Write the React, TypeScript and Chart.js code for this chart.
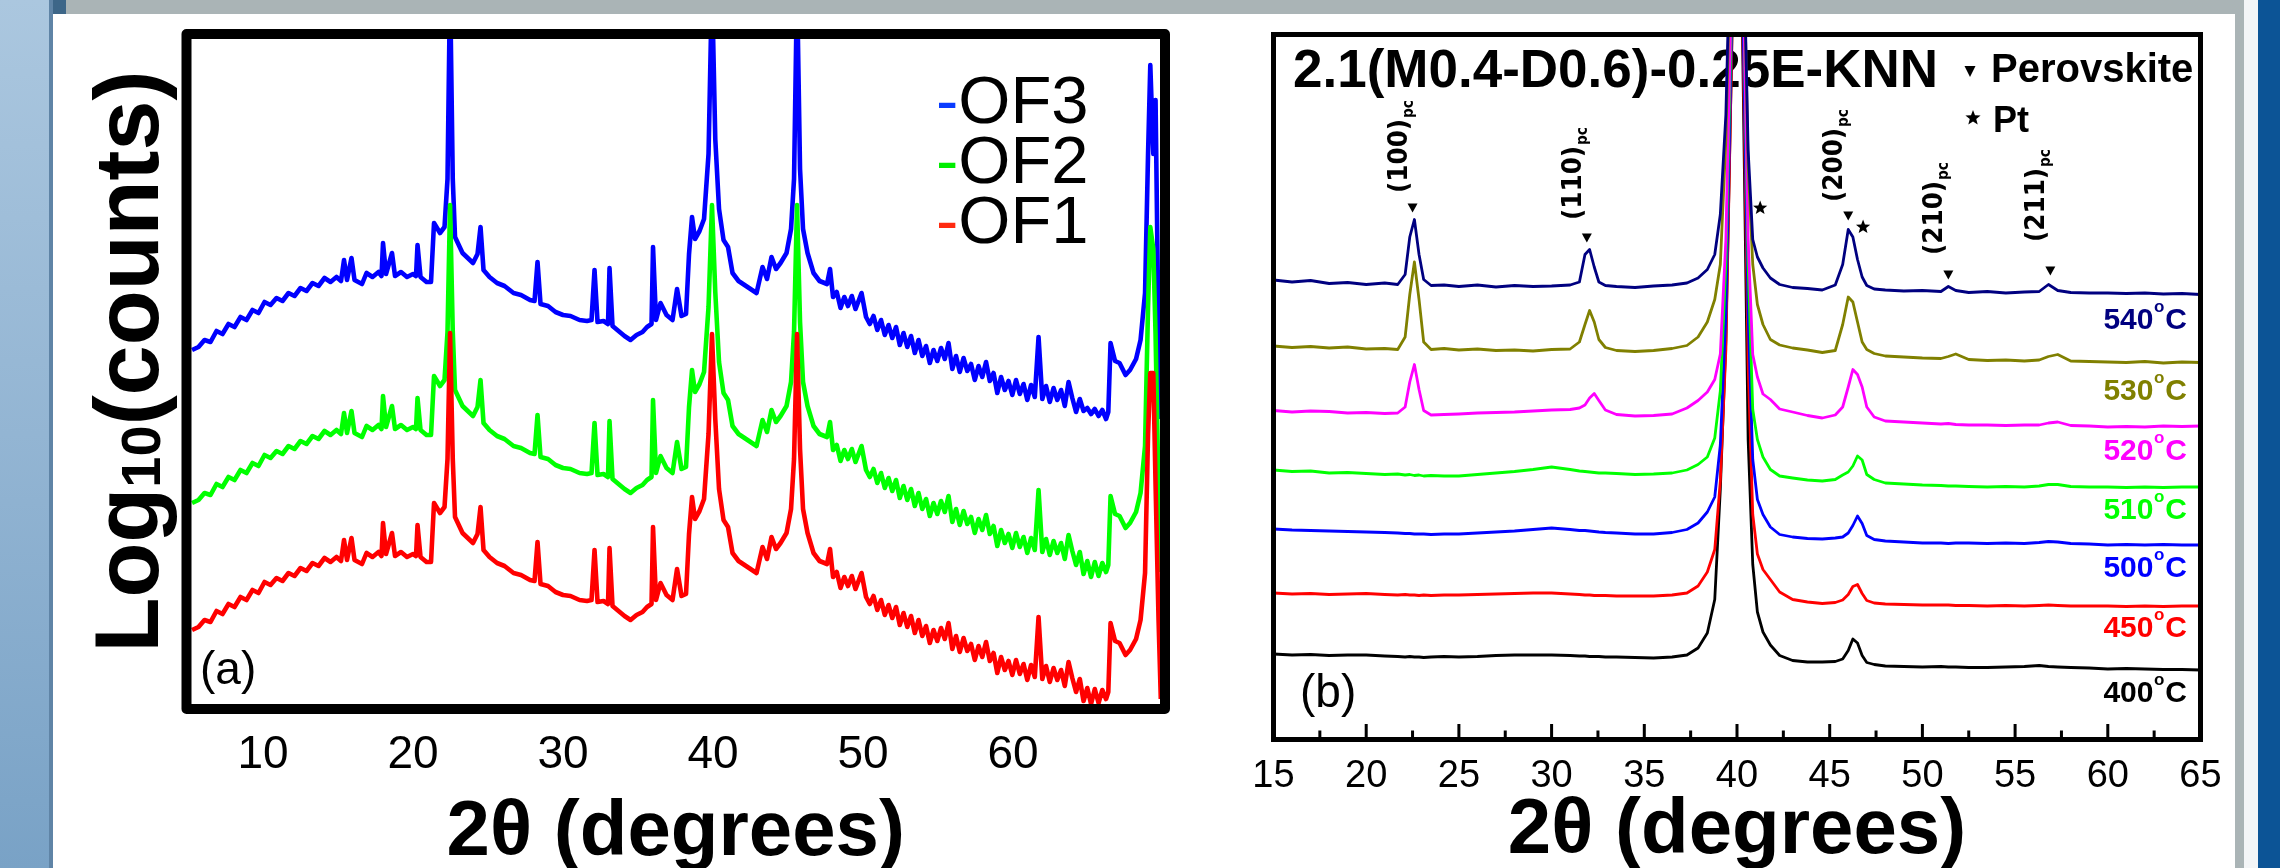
import React, { useEffect, useRef } from "react";
import { Chart, registerables } from "chart.js";

Chart.register(...registerables);

// ---------------- Panel (a) data ----------------
const twoThetaA = [5.27, 5.7, 6.1, 6.5, 6.9, 7.3, 7.7, 8.1, 8.5, 8.9,
  9.3, 9.7, 10.1, 10.5, 10.9, 11.3, 11.7, 12.1, 12.5, 12.9,
  13.3, 13.7, 14.1, 14.5, 14.9, 15.2, 15.4, 15.6, 15.9, 16.1,
  16.6, 16.9, 17.3, 17.7, 17.9, 18.0, 18.2, 18.6, 18.8, 19.2,
  19.6, 20.0, 20.2, 20.3, 20.5, 20.9, 21.2, 21.4, 21.8, 22.1,
  22.3, 22.47, 22.65, 22.8, 23.3, 24.0, 24.3, 24.5, 24.7, 25.1,
  25.6, 26.1, 26.7, 27.2, 27.8, 28.1, 28.3, 28.5, 29.0, 29.5,
  30.0, 30.5, 31.1, 31.6, 31.9, 32.1, 32.3, 32.7, 33.0, 33.1,
  33.3, 33.7, 34.1, 34.5, 34.9, 35.3, 35.6, 35.9, 36.0, 36.2,
  36.5, 36.9, 37.3, 37.6, 37.9, 38.2, 38.4, 38.6, 38.8, 39.1,
  39.4, 39.7, 39.93, 40.15, 40.4, 40.7, 41.0, 41.3, 41.7, 42.3,
  42.9, 43.3, 43.6, 43.9, 44.2, 44.5, 44.9, 45.2, 45.4, 45.6,
  45.8, 46.0, 46.3, 46.7, 47.1,
  47.6, 47.8, 48.0, 48.25, 48.5, 48.75, 49.0, 49.25, 49.5, 49.75,
  49.9, 50.2, 50.45, 50.7, 50.95, 51.2, 51.45, 51.7, 51.95, 52.2,
  52.45, 52.7, 52.95, 53.2, 53.45, 53.7, 53.95, 54.2, 54.45, 54.7,
  54.95, 55.2, 55.45, 55.7, 55.95, 56.2, 56.45, 56.7, 56.95, 57.2,
  57.45, 57.7, 57.95, 58.2, 58.45, 58.7, 58.95, 59.2, 59.45, 59.7,
  59.95, 60.2, 60.45, 60.7, 60.95, 61.2, 61.45, 61.7, 61.95, 62.2,
  62.45, 62.7, 62.95, 63.2, 63.45, 63.7, 63.95, 64.2, 64.45, 64.7,
  64.95, 65.2, 65.45, 65.7, 65.95, 66.2, 66.35,
  66.5, 66.8, 67.1, 67.5, 67.8, 68.2, 68.5, 68.8, 69.0, 69.15,
  69.35, 69.5, 69.7, 69.85];

const of1Counts = [15.8, 16.4, 17.8, 17.4, 19.6, 19.0, 21.0, 20.4, 22.4, 21.8,
  23.8, 23.2, 25.4, 24.8, 26.2, 25.6, 27.2, 26.6, 28.2, 27.6,
  29.2, 28.6, 30.2, 29.4, 30.4, 29.6, 33.8, 29.8, 34.2, 29.8,
  29.0, 31.2, 30.4, 31.4, 30.6, 37.2, 31.0, 35.2, 30.6, 31.4,
  30.4, 31.0, 30.6, 36.8, 30.4, 29.4, 29.4, 41.2, 39.2, 40.4,
  50.0, 75.2, 50.0, 38.4, 35.2, 33.2, 35.0, 40.4, 31.8, 30.4,
  29.2, 28.6, 27.2, 26.8, 25.8, 25.6, 33.4, 25.0, 24.6, 23.4,
  22.8, 22.6, 21.8, 21.6, 21.8, 31.8, 21.4, 21.6, 21.0, 32.2,
  20.6, 19.6, 18.6, 17.8, 18.8, 19.4, 20.4, 21.0, 36.4, 21.8,
  25.2, 22.8, 21.8, 28.0, 22.6, 23.0, 35.0, 42.4, 38.0, 39.6,
  42.0, 55.0, 75.0, 58.0, 44.0, 37.8, 36.4, 31.2, 29.6, 28.4,
  27.2, 32.4, 30.0, 34.4, 32.0, 33.2, 35.2, 40.0, 50.0, 75.0,
  52.0, 40.0, 35.2, 31.2, 29.6,
  29.0, 32.0, 26.4, 27.4, 24.2, 26.4, 24.6, 26.6, 24.0, 26.0,
  27.2, 22.4, 21.0, 22.6, 19.8, 21.8, 18.8, 20.8, 18.2, 20.4,
  16.8, 19.2, 16.4, 18.6, 15.2, 17.8, 14.6, 16.6, 13.2, 15.8,
  13.6, 16.2, 14.0, 17.2, 12.0, 14.6, 11.4, 14.2, 11.6, 13.0,
  9.8, 12.6, 10.4, 13.4, 9.6, 11.2, 7.2, 10.4, 7.8, 9.6,
  6.8, 9.8, 7.0, 9.0, 5.8, 8.8, 6.4, 18.4, 6.0, 8.6,
  5.4, 8.2, 5.8, 7.8, 4.6, 9.4, 6.2, 3.4, 6.0, 1.6,
  4.2, 1.0, 4.0, 1.2, 3.8, 2.0, 3.4,
  17.2, 13.6, 13.2, 10.8, 11.8, 14.0, 17.8, 27.2, 55.0, 67.2,
  67.2, 45.0, 17.8, 2.0];

const of2Counts = [41.2, 41.8, 43.2, 42.8, 45.0, 44.4, 46.4, 45.8, 47.8, 47.2,
  49.2, 48.6, 50.8, 50.2, 51.6, 51.0, 52.6, 52.0, 53.6, 53.0,
  54.6, 54.0, 55.6, 54.8, 55.8, 55.0, 59.2, 55.2, 59.6, 55.2,
  54.4, 56.6, 55.8, 56.8, 56.0, 62.6, 56.4, 60.6, 56.0, 56.8,
  55.8, 56.4, 56.0, 62.2, 55.8, 54.8, 54.8, 66.6, 64.6, 65.8,
  75.4, 100.8, 75.4, 63.8, 60.6, 58.6, 60.4, 65.8, 57.2, 55.8,
  54.6, 54.0, 52.6, 52.2, 51.2, 51.0, 58.8, 50.4, 50.0, 48.8,
  48.2, 48.0, 47.2, 47.0, 47.2, 57.2, 46.8, 47.0, 46.4, 57.6,
  46.0, 45.0, 44.0, 43.2, 44.2, 44.8, 45.8, 46.4, 61.8, 47.2,
  50.6, 48.2, 47.2, 53.4, 48.0, 48.4, 60.4, 67.8, 63.4, 65.0,
  67.4, 80.4, 100.8, 83.4, 69.4, 63.2, 61.8, 56.6, 55.0, 53.8,
  52.6, 57.8, 55.4, 59.8, 57.4, 58.6, 60.6, 65.4, 75.4, 100.8,
  77.4, 65.4, 60.6, 56.6, 55.0,
  54.4, 57.4, 51.8, 52.8, 49.6, 51.8, 50.0, 52.0, 49.4, 51.4,
  52.6, 47.8, 46.4, 48.0, 45.2, 47.2, 44.2, 46.2, 43.6, 45.8,
  42.2, 44.6, 41.8, 44.0, 40.6, 43.2, 40.0, 42.0, 38.6, 41.2,
  39.0, 41.6, 39.4, 42.6, 37.4, 40.0, 36.8, 39.6, 37.0, 38.4,
  35.2, 38.0, 35.8, 38.8, 35.0, 36.6, 32.6, 35.8, 33.2, 35.0,
  32.2, 35.2, 32.4, 34.4, 31.2, 34.2, 31.8, 43.8, 31.4, 34.0,
  30.8, 33.6, 31.2, 33.2, 30.0, 34.8, 31.6, 28.8, 31.4, 27.0,
  29.6, 26.4, 29.4, 26.6, 29.2, 27.4, 28.8,
  42.6, 39.0, 38.6, 36.2, 37.2, 39.4, 43.2, 52.6, 80.4, 96.4,
  92.0, 75.0, 43.2, 27.4];

const of3Counts = [71.8, 72.4, 73.8, 73.4, 75.6, 75.0, 77.0, 76.4, 78.4, 77.8,
  79.8, 79.2, 81.4, 80.8, 82.2, 81.6, 83.2, 82.6, 84.2, 83.6,
  85.2, 84.6, 86.2, 85.4, 86.4, 85.6, 89.8, 85.8, 90.2, 85.8,
  85.0, 87.2, 86.4, 87.4, 86.6, 93.2, 87.0, 91.2, 86.6, 87.4,
  86.4, 87.0, 86.6, 92.8, 86.4, 85.4, 85.4, 97.2, 95.2, 96.4,
  106.0, 145, 106.0, 94.4, 91.2, 89.2, 91.0, 96.4, 87.8, 86.4,
  85.2, 84.6, 83.2, 82.8, 81.8, 81.6, 89.4, 81.0, 80.6, 79.4,
  78.8, 78.6, 77.8, 77.6, 77.8, 87.8, 77.4, 77.6, 77.0, 88.2,
  76.6, 75.6, 74.6, 73.8, 74.8, 75.4, 76.4, 77.0, 92.4, 77.8,
  81.2, 78.8, 77.8, 84.0, 78.6, 79.0, 91.0, 98.4, 94.0, 95.6,
  98.0, 111.0, 145, 114.0, 100.0, 93.8, 92.4, 87.2, 85.6, 84.4,
  83.2, 88.4, 86.0, 90.4, 88.0, 89.2, 91.2, 96.0, 106.0, 145,
  108.0, 96.0, 91.2, 87.2, 85.6,
  85.0, 88.0, 82.4, 83.4, 80.2, 82.4, 80.6, 82.6, 80.0, 82.0,
  83.2, 78.4, 77.0, 78.6, 75.8, 77.8, 74.8, 76.8, 74.2, 76.4,
  72.8, 75.2, 72.4, 74.6, 71.2, 73.8, 70.6, 72.6, 69.2, 71.8,
  69.6, 72.2, 70.0, 73.2, 68.0, 70.6, 67.4, 70.2, 67.6, 69.0,
  65.8, 68.6, 66.4, 69.4, 65.6, 67.2, 63.2, 66.4, 63.8, 65.6,
  62.8, 65.8, 63.0, 65.0, 61.8, 64.8, 62.4, 74.4, 62.0, 64.6,
  61.4, 64.2, 61.8, 63.8, 60.6, 65.4, 62.2, 59.4, 62.0, 59.6,
  60.2, 59.0, 60.0, 58.6, 59.8, 58.0, 59.4,
  73.2, 69.6, 69.2, 66.8, 67.8, 70.0, 73.8, 83.2, 111.0, 128.8,
  111.0, 121.8, 73.8, 58.0];

const seriesNamesA = ["OF1", "OF2", "OF3"];
const seriesColorsA = ["#ff0000", "#00ff00", "#0000ff"];
const legendDashColorsA = ["#ff2a10", "#00ee00", "#0a3cff"];
const xTicksA = [10, 20, 30, 40, 50, 60];

// ---------------- Panel (b) data ----------------
const twoThetaB = [15, 16, 17, 18, 19, 20, 21, 21.7, 22.1, 22.35,
  22.6, 22.85, 23.1, 23.5, 24.2, 25, 26, 27, 28, 29,
  30, 31, 31.5, 31.8, 32.05, 32.3, 32.55, 32.9, 33.5, 34.5,
  35.5, 36.5, 37.3, 37.9, 38.4, 38.8, 39.1, 39.4, 39.7, 40.0,
  40.3, 40.6, 40.85, 41.1, 41.4, 41.8, 42.3, 43, 43.8, 44.6,
  45.3, 45.7, 46.0, 46.25, 46.5, 46.75, 47.0, 47.4, 48, 49,
  50, 51, 51.4, 51.8, 52.5, 53.5, 54.5, 55.5, 56.3, 56.8,
  57.3, 58, 59, 60, 61, 62, 63, 64, 65];

const i540 = [91.9, 91.5, 91.8, 91.2, 91.4, 91.0, 91.3, 91.0, 93.0, 100.5,
  104.0, 97.0, 92.0, 90.8, 90.9, 90.6, 90.9, 90.5, 90.8, 90.6,
  90.7, 90.9, 91.5, 97.0, 98.0, 94.5, 91.5, 90.8, 90.6, 90.4,
  90.7, 90.9, 91.3, 92.3, 94.0, 97.0, 105, 125, 170, 200,
  170, 118, 100, 96.5, 94.3, 92.3, 91.0, 90.4, 90.2, 89.9,
  90.9, 95.0, 102.0, 100.5, 96.0, 92.5, 90.8, 90.1, 89.9, 89.7,
  89.8, 89.6, 90.6, 89.8, 89.4, 89.6, 89.3, 89.5, 89.6, 91.0,
  89.8, 89.4, 89.3, 89.3, 89.2, 89.3, 89.1, 89.2, 89.0];

const i530 = [78.7, 78.4, 78.6, 78.3, 78.5, 78.1, 78.2, 78.0, 80.5, 89.0,
  95.5, 88.0, 79.5, 78.0, 78.2, 77.9, 78.1, 77.8, 77.9, 77.7,
  78.0, 78.1, 79.5, 83.0, 85.8, 83.5, 80.0, 78.4, 77.8, 77.6,
  77.8, 78.2, 78.8, 80.5, 83.5, 88.0, 95, 120, 165, 200,
  170, 115, 95, 87.0, 83.0, 80.0, 78.9, 78.3, 77.9, 77.4,
  77.8, 83.0, 88.5, 87.5, 83.5, 79.5, 78.0, 77.2, 76.7, 76.5,
  76.3, 76.2, 76.6, 77.1, 76.0, 75.8, 75.9, 75.7, 75.9, 76.6,
  77.0, 75.7, 75.6, 75.5, 75.4, 75.6, 75.3, 75.5, 75.4];

const i520 = [65.8, 65.5, 65.7, 65.6, 65.3, 65.4, 65.2, 65.3, 66.5, 71.5,
  75.0, 70.0, 65.8, 64.9, 65.0, 65.1, 65.3, 65.4, 65.5, 65.7,
  65.9, 66.0, 66.3, 66.9, 68.3, 69.2, 67.8, 65.9, 65.0, 64.7,
  64.8, 65.1, 66.3, 67.8, 69.5, 72.0, 77.1, 100, 150, 200,
  160, 100, 77, 72.5, 69.1, 68.0, 66.1, 65.5, 64.8, 64.3,
  64.9, 66.5, 70.5, 74.0, 73.0, 70.5, 66.5, 64.5, 63.7, 63.5,
  63.3, 63.1, 63.2, 63.0, 62.9, 62.9, 62.8, 62.9, 62.9, 63.3,
  63.5, 62.8, 62.7, 62.5, 62.6, 62.5, 62.7, 62.6, 62.7];

const i510 = [53.9, 53.6, 53.7, 53.3, 53.4, 53.2, 53.0, 53.1, 52.9, 53.0,
  52.8, 52.9, 52.7, 52.8, 52.7, 52.7, 53.0, 53.3, 53.6, 54.0,
  54.5, 54.0, 53.7, 53.6, 53.5, 53.4, 53.3, 53.3, 53.2, 53.0,
  53.1, 53.3, 53.9, 55.0, 56.5, 60.3, 69.7, 95, 145, 200,
  160, 95, 66, 60.0, 56.5, 54.0, 52.7, 52.3, 51.9, 51.7,
  52.0, 52.9, 53.5, 54.7, 56.7, 55.9, 53.0, 52.0, 51.3, 51.1,
  50.9, 50.8, 50.7, 50.7, 50.6, 50.5, 50.6, 50.5, 50.7, 51.0,
  51.0, 50.6, 50.5, 50.5, 50.4, 50.5, 50.4, 50.5, 50.5];

const i500 = [42.1, 41.9, 41.8, 41.7, 41.6, 41.5, 41.4, 41.3, 41.2, 41.2,
  41.1, 41.1, 41.1, 41.0, 41.1, 41.1, 41.3, 41.5, 41.7, 42.0,
  42.3, 42.0, 41.8, 41.8, 41.7, 41.6, 41.5, 41.4, 41.3, 41.1,
  41.1, 41.4, 42.0, 43.3, 45.5, 48.5, 58.9, 85, 140, 200,
  150, 85, 56, 48.0, 45.0, 42.5, 41.0, 40.5, 40.2, 40.1,
  40.3, 40.5, 41.3, 42.8, 44.7, 43.2, 40.8, 40.0, 39.7, 39.5,
  39.3, 39.3, 39.2, 39.3, 39.3, 39.2, 39.3, 39.2, 39.4, 39.6,
  39.5, 39.2, 39.1, 38.9, 39.0, 38.9, 39.0, 38.9, 38.9];

const i450 = [29.3, 29.1, 29.2, 29.0, 29.1, 29.2, 29.0, 28.9, 29.0, 28.9,
  28.9, 28.8, 28.9, 28.8, 28.9, 28.9, 29.0, 29.1, 29.2, 29.3,
  29.3, 29.1, 29.0, 28.9, 28.9, 28.8, 28.8, 28.8, 28.7, 28.7,
  28.7, 28.9, 29.3, 30.7, 33.5, 38.0, 51.7, 78, 135, 200,
  145, 75, 45, 37.1, 34.0, 32.0, 29.5, 28.0, 27.5, 27.2,
  27.4, 27.9, 29.0, 30.6, 31.0, 29.2, 27.8, 27.3, 27.1, 27.0,
  26.9, 26.9, 26.9, 26.8, 26.8, 26.7, 26.8, 26.7, 26.8, 26.9,
  26.8, 26.7, 26.7, 26.7, 26.6, 26.7, 26.6, 26.7, 26.7];

const i400 = [17.1, 16.9, 17.0, 16.8, 16.9, 16.9, 16.7, 16.6, 16.5, 16.6,
  16.5, 16.5, 16.4, 16.5, 16.6, 16.5, 16.6, 16.8, 16.9, 16.9,
  16.9, 16.8, 16.7, 16.7, 16.6, 16.6, 16.6, 16.5, 16.5, 16.4,
  16.3, 16.5, 16.9, 18.3, 21.3, 28.0, 50, 80, 135, 200,
  140, 60, 35, 25.5, 21.5, 18.9, 16.8, 15.8, 15.5, 15.5,
  15.6, 16.1, 17.8, 20.1, 19.3, 16.8, 15.4, 15.0, 14.7, 14.6,
  14.5, 14.6, 14.5, 14.5, 14.4, 14.4, 14.5, 14.6, 14.8, 14.6,
  14.5, 14.4, 14.3, 14.1, 14.2, 14.1, 14.0, 14.0, 13.9];

const tempSeriesB = [i540, i530, i520, i510, i500, i450, i400];
const tempLabelsB = ["540", "530", "520", "510", "500", "450", "400"];
const tempColorsB = ["#000080", "#808000", "#ff00ff", "#00ff00", "#0000ff", "#ff0000", "#000000"];
const tempLabelLevelsB = [82.1, 67.9, 55.9, 44.1, 32.5, 20.5, 7.5];

const xTicksB = [15, 20, 25, 30, 35, 40, 45, 50, 55, 60, 65];
const xMinorTicksB = [17.5, 22.5, 27.5, 32.5, 37.5, 42.5, 47.5, 52.5, 57.5, 62.5];

const peakNamesB = ["(100)", "(110)", "(200)", "(210)", "(211)"];
const peakPositionsB = [22.5, 31.9, 46.0, 51.4, 56.9];
const peakMarkerLevelsB = [106.3, 100.3, 104.7, 92.9, 93.7];
const peakLabelLevelsB = [109.3, 103.9, 107.5, 96.9, 99.5];
const ptPositionsB = [41.25, 46.8];
const ptLevelsB = [106.3, 102.5];

const FONT = '"Liberation Sans", Arial, Helvetica, sans-serif';
const FONT_DV = '"DejaVu Sans", Verdana, sans-serif';

function triDown(ctx: CanvasRenderingContext2D, cx: number, cy: number, w: number, h: number) {
  ctx.beginPath();
  ctx.moveTo(cx - w / 2, cy - h / 2);
  ctx.lineTo(cx + w / 2, cy - h / 2);
  ctx.lineTo(cx, cy + h / 2);
  ctx.closePath();
  ctx.fill();
}

function star(ctx: CanvasRenderingContext2D, cx: number, cy: number, R: number, r: number) {
  ctx.beginPath();
  for (let i = 0; i < 10; i++) {
    const ang = -Math.PI / 2 + (i * Math.PI) / 5;
    const rad = i % 2 === 0 ? R : r;
    const px = cx + rad * Math.cos(ang);
    const py = cy + rad * Math.sin(ang);
    if (i === 0) ctx.moveTo(px, py);
    else ctx.lineTo(px, py);
  }
  ctx.closePath();
  ctx.fill();
}

const panelAPlugin = {
  id: "panelA",
  afterDatasetsDraw(chart: any) {
    const { ctx, chartArea: a, scales } = chart;
    const xs = scales.x;
    ctx.save();
    ctx.strokeStyle = "#000";
    ctx.lineWidth = 10;
    ctx.lineJoin = "round";
    ctx.strokeRect(a.left, a.top, a.right - a.left, a.bottom - a.top);
    ctx.fillStyle = "#000";
    ctx.textBaseline = "alphabetic";
    ctx.font = `46px ${FONT}`;
    ctx.textAlign = "center";
    xTicksA.forEach((t) => ctx.fillText(String(t), xs.getPixelForValue(t), a.bottom + 59));
    ctx.font = `bold 78px ${FONT}`;
    ctx.fillText("2θ (degrees)", (a.left + a.right) / 2, a.bottom + 146);
    ctx.save();
    ctx.translate(a.left - 28.5, (a.top + a.bottom) / 2 - 10);
    ctx.rotate(-Math.PI / 2);
    const big = `bold 90px ${FONT}`;
    const small = `bold 56px ${FONT}`;
    ctx.font = big;
    const w1 = ctx.measureText("Log").width;
    const w3 = ctx.measureText("(counts)").width;
    ctx.font = small;
    const w2 = ctx.measureText("10").width;
    const x0 = -(w1 + w2 + w3) / 2;
    ctx.textAlign = "left";
    ctx.font = big;
    ctx.fillText("Log", x0, 0);
    ctx.font = small;
    ctx.fillText("10", x0 + w1, 2);
    ctx.font = big;
    ctx.fillText("(counts)", x0 + w1 + w2, 0);
    ctx.restore();
    ctx.textAlign = "left";
    ctx.font = `67px ${FONT}`;
    const dashW = ctx.measureText("-").width;
    for (let k = 0; k < seriesNamesA.length; k++) {
      const idx = seriesNamesA.length - 1 - k;
      const y = a.top + 89 + k * 60;
      const x = a.right - 229;
      ctx.fillStyle = legendDashColorsA[idx];
      ctx.fillText("-", x, y);
      ctx.fillStyle = "#000";
      ctx.fillText(seriesNamesA[idx], x + dashW, y);
    }
    ctx.font = `46px ${FONT}`;
    ctx.fillText("(a)", a.left + 13.5, a.bottom - 25);
    ctx.restore();
  },
};

const panelBPlugin = {
  id: "panelB",
  beforeDatasetsDraw(chart: any) {
    const { ctx, chartArea: a } = chart;
    ctx.save();
    ctx.fillStyle = "#000";
    ctx.textAlign = "left";
    ctx.textBaseline = "alphabetic";
    ctx.font = `bold 53px ${FONT}`;
    ctx.fillText("2.1(M0.4-D0.6)-0.25E-KNN", a.left + 19.5, a.top + 52.5);
    ctx.restore();
  },
  afterDatasetsDraw(chart: any) {
    const { ctx, chartArea: a, scales } = chart;
    const xs = scales.x;
    const ys = scales.y;
    ctx.save();
    ctx.fillStyle = "#000";
    ctx.strokeStyle = "#000";
    triDown(ctx, a.left + 696.5, a.top + 37, 11, 11);
    ctx.textAlign = "left";
    ctx.textBaseline = "alphabetic";
    ctx.font = `bold 40px ${FONT}`;
    ctx.fillText("Perovskite", a.left + 717.5, a.top + 47.5);
    star(ctx, a.left + 699.5, a.top + 83.5, 8, 3.4);
    ctx.font = `bold 36px ${FONT}`;
    ctx.fillText("Pt", a.left + 719.5, a.top + 97.5);
    for (let i = 0; i < peakNamesB.length; i++) {
      const px = xs.getPixelForValue(peakPositionsB[i]);
      const py = ys.getPixelForValue(peakMarkerLevelsB[i]);
      triDown(ctx, px, py, 10, 9);
      const ly = ys.getPixelForValue(peakLabelLevelsB[i]);
      ctx.save();
      ctx.translate(px - 6, ly);
      ctx.rotate(-Math.PI / 2);
      ctx.font = `bold 27px ${FONT_DV}`;
      const w = ctx.measureText(peakNamesB[i]).width;
      ctx.font = `bold 15px ${FONT_DV}`;
      const wpc = ctx.measureText("pc").width;
      const total = w + 1 + wpc;
      ctx.scale(93 / total, 1);
      ctx.font = `bold 27px ${FONT_DV}`;
      ctx.fillText(peakNamesB[i], 0, 0);
      ctx.font = `bold 15px ${FONT_DV}`;
      ctx.fillText("pc", w + 1, 6);
      ctx.restore();
    }
    for (let i = 0; i < ptPositionsB.length; i++) {
      star(ctx, xs.getPixelForValue(ptPositionsB[i]), ys.getPixelForValue(ptLevelsB[i]), 7.5, 3.2);
    }
    const xr = a.right - 13.5;
    for (let i = 0; i < tempLabelsB.length; i++) {
      const yb = ys.getPixelForValue(tempLabelLevelsB[i]);
      ctx.fillStyle = tempColorsB[i];
      ctx.font = `bold 30px ${FONT}`;
      const wd = ctx.measureText(tempLabelsB[i]).width;
      const wC = ctx.measureText("C").width;
      ctx.font = `bold 17px ${FONT}`;
      const wo = ctx.measureText("o").width;
      const x0 = xr - wC - wo - 1.5 - wd;
      ctx.font = `bold 30px ${FONT}`;
      ctx.fillText(tempLabelsB[i], x0, yb);
      ctx.font = `bold 17px ${FONT}`;
      ctx.fillText("o", x0 + wd + 0.5, yb - 17);
      ctx.font = `bold 30px ${FONT}`;
      ctx.fillText("C", x0 + wd + wo + 1.5, yb);
    }
    ctx.fillStyle = "#000";
    ctx.lineWidth = 5;
    ctx.lineJoin = "miter";
    ctx.strokeRect(a.left, a.top, a.right - a.left, a.bottom - a.top);
    ctx.lineWidth = 3;
    ctx.beginPath();
    xTicksB.forEach((t) => {
      const x = xs.getPixelForValue(t);
      ctx.moveTo(x, a.bottom);
      ctx.lineTo(x, a.bottom - 15.5);
    });
    xMinorTicksB.forEach((t) => {
      const x = xs.getPixelForValue(t);
      ctx.moveTo(x, a.bottom);
      ctx.lineTo(x, a.bottom - 9);
    });
    ctx.stroke();
    ctx.font = `38px ${FONT}`;
    ctx.textAlign = "center";
    xTicksB.forEach((t) => ctx.fillText(String(t), xs.getPixelForValue(t), a.bottom + 47.5));
    ctx.font = `bold 78px ${FONT}`;
    ctx.fillText("2θ (degrees)", (a.left + a.right) / 2, a.bottom + 113.5);
    ctx.textAlign = "left";
    ctx.font = `46px ${FONT}`;
    ctx.fillText("(b)", a.left + 26.5, a.bottom - 32.5);
    ctx.restore();
  },
};

export default function App() {
  const refA = useRef<HTMLCanvasElement>(null);
  const refB = useRef<HTMLCanvasElement>(null);

  useEffect(() => {
    const dsA = [of1Counts, of2Counts, of3Counts].map((vals, k) => ({
      label: seriesNamesA[k],
      data: twoThetaA.map((x, i) => ({ x, y: vals[i] })),
      borderColor: seriesColorsA[k],
      backgroundColor: seriesColorsA[k],
      borderWidth: 4.6,
      pointRadius: 0,
      tension: 0,
      borderJoinStyle: "round" as const,
      fill: false,
    }));
    const chartA = new Chart(refA.current as HTMLCanvasElement, {
      type: "line",
      data: { datasets: dsA },
      options: {
        animation: false,
        responsive: false,
        maintainAspectRatio: false,
        devicePixelRatio: 1,
        layout: { padding: { left: 133.5, right: 78, top: 20, bottom: 159 } },
        scales: {
          x: { type: "linear", min: 4.9, max: 70.13, display: false },
          y: { type: "linear", min: 0, max: 135, display: false },
        },
        plugins: { legend: { display: false }, tooltip: { enabled: false } },
        events: [],
      },
      plugins: [panelAPlugin],
    });

    const dsB = tempSeriesB.map((vals, k) => ({
      label: tempLabelsB[k] + "°C",
      data: twoThetaB.map((x, i) => ({ x, y: vals[i] })),
      borderColor: tempColorsB[k],
      backgroundColor: tempColorsB[k],
      borderWidth: 2.8,
      pointRadius: 0,
      tension: 0,
      borderJoinStyle: "round" as const,
      fill: false,
    }));
    const chartB = new Chart(refB.current as HTMLCanvasElement, {
      type: "line",
      data: { datasets: dsB },
      options: {
        animation: false,
        responsive: false,
        maintainAspectRatio: false,
        devicePixelRatio: 1,
        layout: { padding: { left: 29.5, right: 34.5, top: 20.5, bottom: 128.5 } },
        scales: {
          x: { type: "linear", min: 15, max: 65, display: false },
          y: { type: "linear", min: 0, max: 141, display: false },
        },
        plugins: { legend: { display: false }, tooltip: { enabled: false } },
        events: [],
      },
      plugins: [panelBPlugin],
    });

    return () => {
      chartA.destroy();
      chartB.destroy();
    };
  }, []);

  const abs = (l: number, t: number, w: number, h: number, bg: string): React.CSSProperties => ({
    position: "absolute", left: l, top: t, width: w, height: h, background: bg,
  });

  return (
    <div style={{ position: "fixed", left: 0, top: 0, width: 2280, height: 868, overflow: "hidden", background: "#aab4b6" }}>
      <div style={abs(0, 0, 49, 868, "linear-gradient(180deg, #abc7df 0%, #93b5d3 50%, #79a2c6 100%)")} />
      <div style={abs(49, 0, 4, 868, "#5f84a6")} />
      <div style={abs(53, 0, 13, 14, "#3d6688")} />
      <div style={abs(53, 14, 2182, 854, "#ffffff")} />
      <div style={abs(2244, 0, 14, 868, "#f3f5f7")} />
      <div style={abs(2258, 0, 22, 868, "#0c5496")} />
      <canvas ref={refA} width={1190} height={854} style={{ position: "absolute", left: 53, top: 14, width: 1190, height: 854 }} />
      <canvas ref={refB} width={991} height={854} style={{ position: "absolute", left: 1244, top: 14, width: 991, height: 854 }} />
    </div>
  );
}
